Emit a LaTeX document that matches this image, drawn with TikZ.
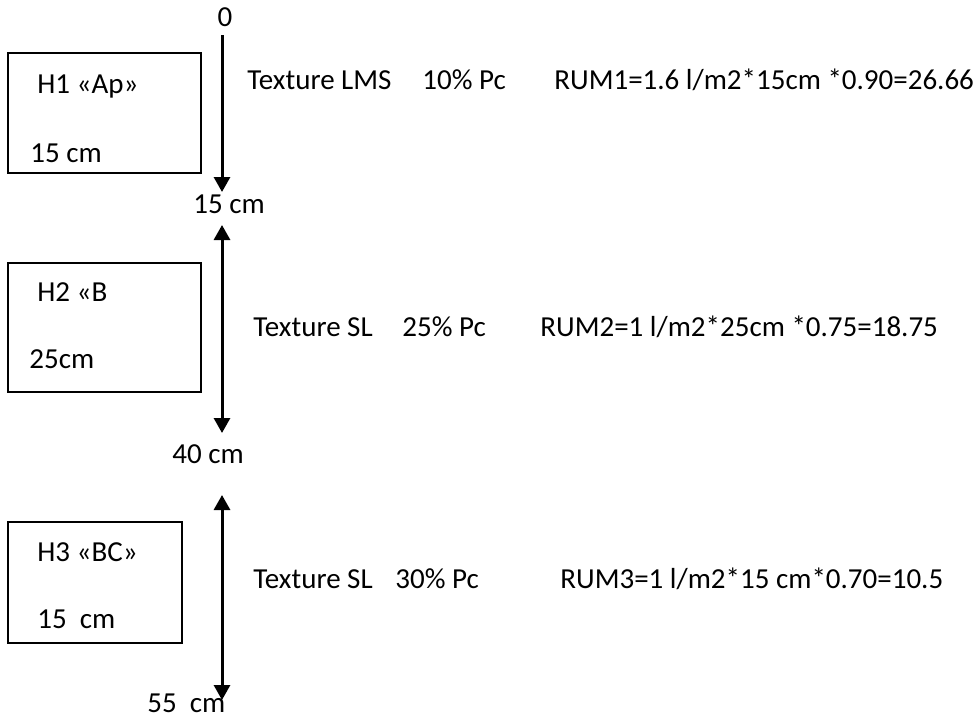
\documentclass[tikz,border=0pt]{standalone}
\usepackage{fontspec}
\setmainfont{Carlito}
\usetikzlibrary{arrows.meta}

\tikzset{
  txt/.style={anchor=base west, inner sep=0pt, font=\fontsize{14.5}{17}\selectfont},
  horizon/.style={line width=1pt},
  depthline/.style={line width=1.5pt},
  tip/.tip={Triangle[length=7.5pt,width=8pt]}
}

\begin{document}
\begin{tikzpicture}[x=0.5pt,y=-0.5pt]
    \useasboundingbox (0,0) rectangle (979,719);

    \draw[horizon] (8,53) rectangle (201,173);
    \node[txt] (h1name) at (37,93) {H1 «Ap»};
    \node[txt] (h1thick) at (30,162) {15 cm};

    \draw[horizon] (8,263) rectangle (201,392);
    \node[txt] (h2name) at (37,301) {H2 «B};
    \node[txt] (h2thick) at (29,368) {25cm};

    \draw[horizon] (8,522) rectangle (182,643);
    \node[txt] (h3name) at (37,561) {H3 «BC»};
    \node[txt] (h3thick) at (37,628) {15\ \ cm};

    \node[txt, anchor=base] (z0) at (225,26) {0};
    \node[txt] (z15) at (193,213) {15 cm};
    \node[txt] (z40) at (172,463) {40 cm};
    \node[txt] (z55) at (147,712) {55\ \ cm};

    \coordinate (a1) at (222,35);
    \coordinate (b1) at (222,192);
    \coordinate (a2) at (222,225);
    \coordinate (b2) at (222,433);
    \coordinate (a3) at (222,495);
    \coordinate (b3) at (222,700);
    \draw[depthline, -tip] (a1) -- (b1);
    \draw[depthline, tip-tip] (a2) -- (b2);
    \draw[depthline, tip-tip] (a3) -- (b3);

    \node[txt] (tex1) at (247,89) {Texture LMS};
    \node[txt] (pc1) at (422,89) {10\% Pc};
    \node[txt] (rum1) at (554,89) {RUM1=1.6 l/m2*15cm *0.90=26.66};

    \node[txt] (tex2) at (253,336) {Texture SL};
    \node[txt] (pc2) at (402,336) {25\% Pc};
    \node[txt] (rum2) at (540,336) {RUM2=1 l/m2*25cm *0.75=18.75};

    \node[txt] (tex3) at (253,588) {Texture SL};
    \node[txt] (pc3) at (395,588) {30\% Pc};
    \node[txt] (rum3) at (560,588) {RUM3=1 l/m2*15 cm*0.70=10.5};
\end{tikzpicture}
\end{document}
